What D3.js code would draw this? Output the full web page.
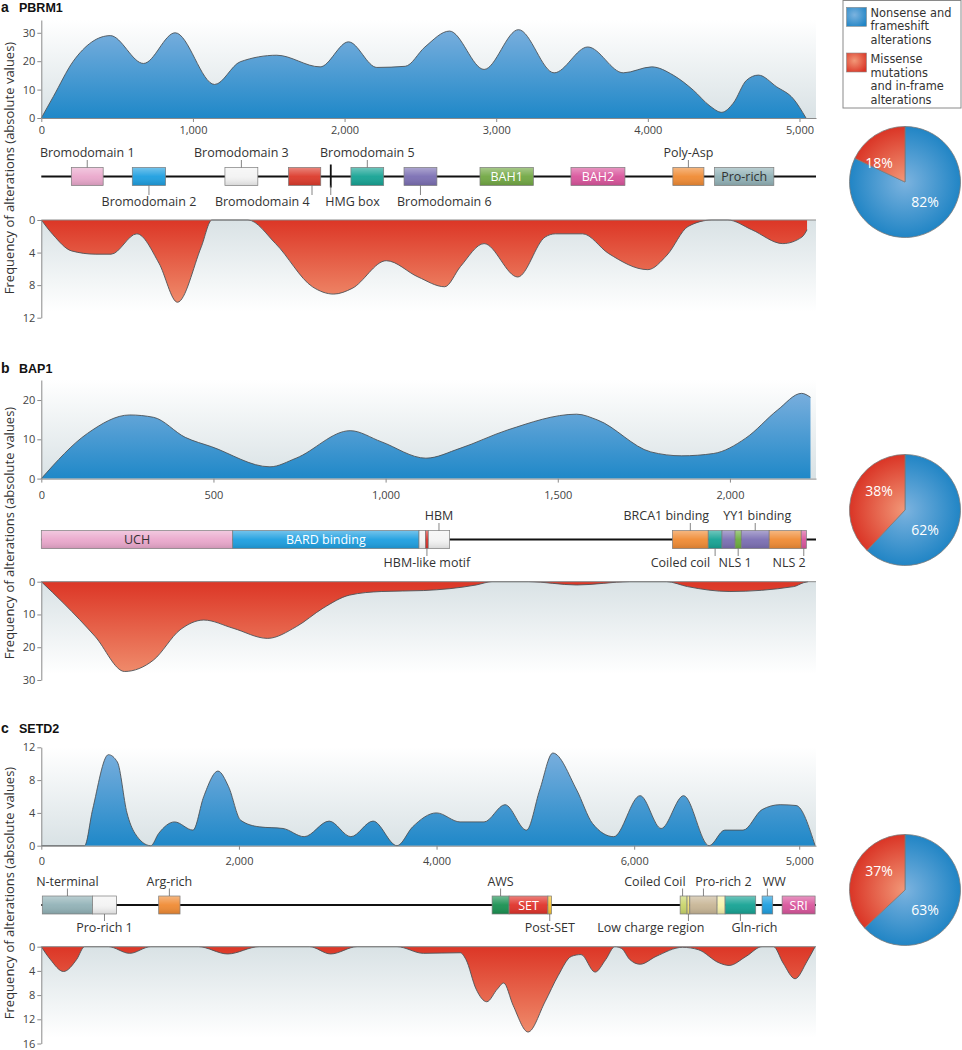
<!DOCTYPE html>
<html><head><meta charset="utf-8">
<script src="https://cdn.jsdelivr.net/npm/d3@7"></script>
<style>
body{margin:0;background:#fff;}
svg{display:block;}
</style></head>
<body><svg id="chart" width="962" height="1050"></svg>
<script>
// ================= DATA =================
// --- a: PBRM1 ---
const pbrm1XTicks = [0, 1000, 2000, 3000, 4000, 5000];
const pbrm1XLabels = ["0", "1,000", "2,000", "3,000", "4,000", "5,000"];
const pbrm1TopTicks = [0, 10, 20, 30];
const pbrm1BotTicks = [0, 4, 8, 12];
const pbrm1TruncPos  = [0, 79, 211, 455, 674, 883, 1143, 1312, 1553, 1839, 2026, 2213, 2400, 2530, 2692, 2920, 3147, 3382, 3604, 3838, 4026, 4167, 4300, 4410, 4487, 4563, 4651, 4729, 4849, 4959, 5043];
const pbrm1TruncFreq = [0, 7.5, 20, 29, 19.2, 30, 11.8, 19.8, 22.1, 18, 26.8, 17.8, 18.2, 25, 30.6, 17.1, 31.1, 15.9, 25, 15.9, 18, 15.1, 9.8, 4.2, 2, 5.2, 13.3, 15.1, 11, 6.8, 0];
const pbrm1MissPos  = [0, 77, 200, 360, 460, 630, 776, 898, 1055, 1125, 1363, 1545, 1788, 1928, 2050, 2275, 2485, 2660, 2765, 2920, 3142, 3322, 3390, 3570, 3740, 4000, 4127, 4265, 4423, 4528, 4686, 4890, 5016, 5050];
const pbrm1MissFreq = [0, 1.8, 3.8, 4.2, 4.2, 1.7, 5.3, 10.1, 3.3, 0, 0, 2.9, 8.2, 9.1, 8.4, 5, 7, 8.2, 5.7, 2.9, 7, 2.1, 1.7, 1.7, 4.1, 6.1, 4.3, 0.8, 0, 0, 1.2, 2.9, 2.1, 1.2];
const pbrm1DomainNames = ["Bromodomain 1", "Bromodomain 2", "Bromodomain 3", "Bromodomain 4", "HMG box", "Bromodomain 5", "Bromodomain 6", "BAH1", "BAH2", "Poly-Asp", "Pro-rich"];
const pbrm1DomainStart = [198, 600, 1211, 1630, 1903, 2042, 2392, 2893, 3493, 4165, 4440];
const pbrm1DomainEnd   = [408, 820, 1428, 1843, 1915, 2258, 2609, 3245, 3849, 4370, 4831];
const pbrm1Pie = [82, 18];

// --- b: BAP1 ---
const bap1XTicks = [0, 500, 1000, 1500, 2000];
const bap1XLabels = ["0", "500", "1,000", "1,500", "2,000"];
const bap1TopTicks = [0, 10, 20];
const bap1BotTicks = [0, 10, 20, 30];
const bap1TruncPos  = [0, 134, 257, 326, 418, 495, 664, 740, 897, 987, 1117, 1216, 1355, 1555, 1616, 1770, 1860, 1953, 2046, 2139, 2208, 2234];
const bap1TruncFreq = [0, 11.5, 16.2, 15.6, 10.5, 8.1, 3.0, 5.2, 12.2, 9.4, 5.2, 7.7, 12.4, 16.4, 14.9, 6.8, 5.8, 6.4, 10.3, 17.5, 21.7, 20.7];
const bap1MissPos  = [0, 65, 157, 242, 326, 403, 472, 557, 657, 741, 818, 895, 987, 1110, 1263, 1309, 1416, 1555, 1709, 1816, 1877, 2000, 2185, 2214, 2227];
const bap1MissFreq = [0, 6.6, 16.8, 27.4, 23.9, 14.7, 11.7, 14.2, 17.3, 13.7, 8.1, 4.1, 3.0, 2.7, 1.0, 0, 0, 1.0, 0, 0, 1.5, 3.0, 1.5, 0.3, 0];
const bap1DomainNames = ["UCH", "BARD binding", "", "HBM-like motif", "HBM", "BRCA1 binding", "Coiled coil", "", "NLS 1", "YY1 binding", "", "NLS 2"];
const bap1DomainStart = [0, 556, 1097, 1116, 1124, 1833, 1937, 1977, 2015, 2033, 2114, 2207];
const bap1DomainEnd   = [556, 1097, 1116, 1124, 1186, 1937, 1977, 2015, 2033, 2114, 2207, 2222];
const bap1Pie = [62, 38];

// --- c: SETD2 ---
const setd2XTicks = [0, 2000, 4000, 6000, 7670];
const setd2XLabels = ["0", "2,000", "4,000", "6,000", "5,000"];
const setd2TopTicks = [0, 4, 8, 12];
const setd2BotTicks = [0, 4, 8, 12, 16];
const setd2TruncPos  = [0, 438, 519, 679, 770, 867, 948, 1108, 1188, 1349, 1535, 1644, 1788, 1895, 2018, 2205, 2446, 2660, 2913, 3133, 3357, 3600, 3758, 3999, 4238, 4481, 4693, 4910, 5044, 5177, 5418, 5579, 5793, 6060, 6273, 6500, 6758, 6917, 7102, 7294, 7477, 7639, 7831];
const setd2TruncFreq = [0, 0, 4.4, 11.1, 10.2, 4.0, 1.5, 0, 1.5, 2.9, 1.9, 6.0, 9.1, 7.2, 3.1, 2.3, 2.1, 1.1, 3.0, 1.1, 3.0, 0, 2.3, 4.0, 2.9, 2.9, 5.0, 1.9, 6.8, 11.3, 6.8, 2.7, 1.1, 6.1, 2.1, 6.1, 0, 1.9, 1.9, 4.4, 5.0, 4.9, 0];
const setd2MissPos  = [0, 91, 225, 358, 438, 679, 894, 1108, 1590, 1885, 2205, 2715, 2928, 3196, 3600, 3868, 4240, 4297, 4400, 4508, 4615, 4679, 4775, 4926, 5098, 5230, 5364, 5462, 5604, 5713, 5804, 5873, 5954, 6060, 6222, 6489, 6650, 6863, 6960, 7133, 7294, 7410, 7507, 7628, 7750, 7831];
const setd2MissFreq = [0, 2.1, 4.1, 2.1, 0, 0, 1.1, 0, 0, 1.2, 0, 0, 1.2, 0, 0, 1.1, 1.0, 2.1, 7.0, 9.1, 7.0, 6.0, 9.7, 14.1, 9.1, 4.8, 1.6, 1.3, 4.2, 2.1, 0, 0.3, 2.1, 2.9, 1.6, 0.1, 0.5, 2.7, 3.1, 1.6, 0, 0, 2.7, 5.3, 2.4, 0];
const setd2DomainNames = ["N-terminal", "Pro-rich 1", "Arg-rich", "AWS", "SET", "Post-SET", "Coiled Coil", "Low charge region", "Pro-rich 2", "", "Gln-rich", "WW", "SRI"];
const setd2DomainStart = [10, 519, 1188, 4562, 4734, 5127, 6465, 6535, 6563, 6839, 6920, 7294, 7497];
const setd2DomainEnd   = [519, 760, 1404, 4734, 5127, 5164, 6535, 6563, 6839, 6920, 7230, 7402, 7831];
const setd2Pie = [63, 37];

const legendLabels = [["Nonsense and", "frameshift", "alterations"], ["Missense", "mutations", "and in-frame", "alterations"]];
const yAxisTitle = "Frequency of alterations (absolute values)";

// ================= STYLES / LAYOUT =================
const FONT = '"Open Sans","Noto Sans",sans-serif';
const TFONT = '"Liberation Sans","Arial",sans-serif';
const LFONT = '"DejaVu Sans",sans-serif';
const TXT = "#333";
const AX = "#8a8a8a";
const C = {pink:"#eaa8cc", blue:"#1e9fe0", white:"#f3f3f3", red:"#dc3a2b", teal:"#16a394", purple:"#7b6fb3",
  green:"#72a844", magenta:"#d9559c", orange:"#f08b34", greyteal:"#92b2b7", dkgreen:"#1a9152", yellow:"#f7c22e",
  ygreen:"#c9d56b", lowy:"#f0e070", tan:"#c8b696", ltyellow:"#f8f3ab", nls1:"#6cad3e", black:"#111"};

const pbrm1DomainStyle = [
  {fill:C.pink, side:"above"},
  {fill:C.blue, side:"below"},
  {fill:C.white, side:"above"},
  {fill:C.red, side:"below", anchor:"end", dx:5, ldx:7.4},
  {fill:C.black, side:"below", anchor:"start", dx:-5.5, bar:true},
  {fill:C.teal, side:"above"},
  {fill:C.purple, side:"below", anchor:"start", dx:-23.5},
  {fill:C.green, side:"inside", tc:"#fff"},
  {fill:C.magenta, side:"inside", tc:"#fff"},
  {fill:C.orange, side:"above"},
  {fill:C.greyteal, side:"inside", tc:"#333"}
];
const bap1DomainStyle = [
  {fill:C.pink, side:"inside", tc:"#333"},
  {fill:C.blue, side:"inside", tc:"#fff"},
  {fill:C.white, side:null},
  {fill:"#d9302a", side:"below"},
  {fill:C.white, side:"above"},
  {fill:C.orange, side:"above", dx:-24},
  {fill:C.teal, side:"below", anchor:"end", dx:-5},
  {fill:C.purple, side:null},
  {fill:C.nls1, side:"below", dx:-3},
  {fill:C.purple, side:"above", dx:2},
  {fill:C.orange, side:null},
  {fill:C.magenta, side:"below", anchor:"end", dx:2}
];
const setd2DomainStyle = [
  {fill:C.greyteal, side:"above"},
  {fill:C.white, side:"below"},
  {fill:C.orange, side:"above"},
  {fill:C.dkgreen, side:"above"},
  {fill:"#e0332a", side:"inside", tc:"#fff"},
  {fill:C.yellow, side:"below"},
  {fill:C.ygreen, side:"above", anchor:"end", dx:2, ldx:-1},
  {fill:C.lowy, side:"below", dx:-37.6},
  {fill:C.tan, side:"above", dx:20},
  {fill:C.ltyellow, side:null},
  {fill:C.teal, side:"below", dx:14},
  {fill:C.blue, side:"above", dx:7},
  {fill:C.magenta, side:"inside", tc:"#fff"}
];

const panels = [
  {letter:"a", name:"PBRM1", titleBase:11.5, xMax:5109, xTicks:pbrm1XTicks, xLabels:pbrm1XLabels, xLabelBase:134,
   topTop:20, top0:118, topMax:34.5, topTicks:pbrm1TopTicks,
   bot0:220, botBottom:317.7, botMax:12, botTicks:pbrm1BotTicks,
   tPos:pbrm1TruncPos, tVal:pbrm1TruncFreq, mPos:pbrm1MissPos, mVal:pbrm1MissFreq,
   dNames:pbrm1DomainNames, dStart:pbrm1DomainStart, dEnd:pbrm1DomainEnd, dStyle:pbrm1DomainStyle,
   boxTop:167.5, aboveBase:157, belowBase:206, pie:pbrm1Pie, pieCy:182, yTitleC:168},
  {letter:"b", name:"BAP1", titleBase:373, xMax:2250, xTicks:bap1XTicks, xLabels:bap1XLabels, xLabelBase:499,
   topTop:380, top0:478.6, topMax:25.1, topTicks:bap1TopTicks,
   bot0:581.7, botBottom:680, botMax:30, botTicks:bap1BotTicks,
   tPos:bap1TruncPos, tVal:bap1TruncFreq, mPos:bap1MissPos, mVal:bap1MissFreq,
   dNames:bap1DomainNames, dStart:bap1DomainStart, dEnd:bap1DomainEnd, dStyle:bap1DomainStyle,
   boxTop:530.6, aboveBase:520, belowBase:567, pie:bap1Pie, pieCy:510, yTitleC:533},
  {letter:"c", name:"SETD2", titleBase:733, xMax:7840, xTicks:setd2XTicks, xLabels:setd2XLabels, xLabelBase:865,
   topTop:747.3, top0:845.7, topMax:12, topTicks:setd2TopTicks,
   bot0:946.7, botBottom:1043.5, botMax:16, botTicks:setd2BotTicks,
   tPos:setd2TruncPos, tVal:setd2TruncFreq, mPos:setd2MissPos, mVal:setd2MissFreq,
   dNames:setd2DomainNames, dStart:setd2DomainStart, dEnd:setd2DomainEnd, dStyle:setd2DomainStyle,
   boxTop:896, aboveBase:885.5, belowBase:932, pie:setd2Pie, pieCy:890, yTitleC:893}
];

// pie label offsets from pie centre: [blue slice, red slice]
const pieLabelOffset = [[20, 20], [-26, -18.5]];

// ================= DRAW =================
const svg = d3.select("#chart").style("font-family", FONT);
const defs = svg.append("defs");
function lin(id, stops, vertical=true) {
  const g = defs.append("linearGradient").attr("id", id)
    .attr("x1", 0).attr("y1", 0).attr("x2", vertical ? 0 : 1).attr("y2", vertical ? 1 : 0);
  stops.forEach(s => g.append("stop").attr("offset", s[0]).attr("stop-color", s[1]).attr("stop-opacity", s[2] == null ? 1 : s[2]));
}
lin("bgTop", [[0, "#ffffff"], [1, "#d9e2e5"]]);
lin("bgBot", [[0, "#d9e2e5"], [1, "#ffffff"]]);
lin("blueArea", [[0, "#78aedd"], [1, "#1f88c8"]]);
lin("redArea", [[0, "#dc3626"], [1, "#ef8a6a"]]);
lin("boxShade", [[0, "#ffffff", 0.38], [0.5, "#ffffff", 0.05], [1, "#000000", 0.12]]);

const XL = 41.3, XR = 816;

panels.forEach(p => {
  const g = svg.append("g");
  const x = d3.scaleLinear().domain([0, p.xMax]).range([XL, XR]);
  const yT = d3.scaleLinear().domain([0, p.topMax]).range([p.top0, p.topTop]);
  const yB = d3.scaleLinear().domain([0, p.botMax]).range([p.bot0, p.botBottom]);

  // title
  const t = g.append("text").attr("x", 1).attr("y", p.titleBase).attr("font-weight", "bold").attr("fill", "#111")
    .attr("font-family", TFONT);
  t.append("tspan").attr("font-size", 14).text(p.letter);
  t.append("tspan").attr("x", 19).attr("font-size", 12.5).text(p.name);

  // backgrounds
  g.append("rect").attr("x", XL).attr("y", p.topTop).attr("width", XR - XL).attr("height", p.top0 - p.topTop).attr("fill", "url(#bgTop)");
  g.append("rect").attr("x", XL).attr("y", p.bot0).attr("width", XR - XL).attr("height", p.botBottom - p.bot0 - 6).attr("fill", "url(#bgBot)");

  // truncating area
  const td = p.tPos.map((d, i) => [d, p.tVal[i]]);
  const areaT = d3.area().x(d => x(d[0])).y0(yT(0)).y1(d => yT(d[1])).curve(d3.curveMonotoneX);
  const lineT = d3.line().x(d => x(d[0])).y(d => yT(d[1])).curve(d3.curveMonotoneX);
  g.append("path").attr("d", areaT(td)).attr("fill", "url(#blueArea)");
  g.append("path").attr("d", lineT(td)).attr("fill", "none").attr("stroke", "#4d5257").attr("stroke-width", 0.9);

  // missense area
  const md = p.mPos.map((d, i) => [d, p.mVal[i]]);
  const areaM = d3.area().x(d => x(d[0])).y0(yB(0)).y1(d => yB(d[1])).curve(d3.curveMonotoneX);
  const lineM = d3.line().x(d => x(d[0])).y(d => yB(d[1])).curve(d3.curveMonotoneX);
  g.append("path").attr("d", areaM(md)).attr("fill", "url(#redArea)");
  g.append("path").attr("d", lineM(md)).attr("fill", "none").attr("stroke", "#4d5257").attr("stroke-width", 0.9);

  // axes
  function styleAxis(sel) {
    sel.selectAll("path.domain").attr("stroke", AX).attr("stroke-width", 1);
    sel.selectAll(".tick line").attr("stroke", AX);
    sel.selectAll(".tick text").attr("fill", "#444").attr("font-size", 11).attr("font-family", FONT);
  }
  const ayT = g.append("g").attr("transform", `translate(${XL},0)`)
    .call(d3.axisLeft(yT).tickValues(p.topTicks).tickSize(4).tickSizeOuter(0).tickPadding(2));
  styleAxis(ayT);
  const axT = g.append("g").attr("transform", `translate(0,${p.top0})`)
    .call(d3.axisBottom(x).tickValues(p.xTicks).tickFormat((d, i) => p.xLabels[i]).tickSize(4).tickSizeOuter(0).tickPadding(p.xLabelBase - p.top0 - 12));
  styleAxis(axT);
  const ayB = g.append("g").attr("transform", `translate(${XL},0)`)
    .call(d3.axisLeft(yB).tickValues(p.botTicks).tickSize(4).tickSizeOuter(0).tickPadding(2));
  styleAxis(ayB);
  g.append("line").attr("x1", XL).attr("x2", XR).attr("y1", yB(0)).attr("y2", yB(0)).attr("stroke", AX).attr("stroke-width", 1);

  // y axis title
  g.append("text").attr("transform", `translate(13.5,${p.yTitleC}) rotate(-90)`).attr("text-anchor", "middle")
    .attr("font-size", 13).attr("fill", TXT).text(yAxisTitle);

  // domain architecture
  const bh = 18, lineY = p.boxTop + bh / 2;
  g.append("line").attr("x1", XL).attr("x2", XR).attr("y1", lineY).attr("y2", lineY).attr("stroke", "#111").attr("stroke-width", 2);
  p.dNames.forEach((name, i) => {
    const s = p.dStyle[i];
    const x0 = x(p.dStart[i]), x1 = x(p.dEnd[i]), cx = (x0 + x1) / 2;
    if (s.bar) {
      g.append("rect").attr("x", x0).attr("y", p.boxTop - 3).attr("width", x1 - x0).attr("height", bh + 5).attr("fill", s.fill);
    } else {
      g.append("rect").attr("x", x0).attr("y", p.boxTop).attr("width", x1 - x0).attr("height", bh).attr("fill", s.fill);
      g.append("rect").attr("x", x0).attr("y", p.boxTop).attr("width", x1 - x0).attr("height", bh)
        .attr("fill", "url(#boxShade)").attr("stroke", "#7d7d7d").attr("stroke-width", 0.7);
    }
    if (!s.side || !name) return;
    if (s.side === "inside") {
      g.append("text").attr("x", cx).attr("y", lineY + 4.6).attr("text-anchor", "middle")
        .attr("font-size", 12.5).attr("fill", s.tc).text(name);
      return;
    }
    const lx = cx + (s.ldx || 0);
    const tx = cx + (s.dx || 0);
    if (s.side === "above") {
      g.append("line").attr("x1", lx).attr("x2", lx).attr("y1", p.aboveBase + 3).attr("y2", p.boxTop).attr("stroke", "#666").attr("stroke-width", 0.8);
      g.append("text").attr("x", tx).attr("y", p.aboveBase).attr("text-anchor", s.anchor || "middle")
        .attr("font-size", 12.5).attr("fill", TXT).text(name);
    } else {
      g.append("line").attr("x1", lx).attr("x2", lx).attr("y1", p.boxTop + bh).attr("y2", p.belowBase - 11).attr("stroke", "#666").attr("stroke-width", 0.8);
      g.append("text").attr("x", tx).attr("y", p.belowBase).attr("text-anchor", s.anchor || "middle")
        .attr("font-size", 12.5).attr("fill", TXT).text(name);
    }
  });

  // pie
  const r = 55.5, pcx = 905;
  [["#7cb3df", "#2185c5"], ["#f29878", "#da3526"]].forEach((cs, i) => {
    const rg = defs.append("radialGradient").attr("id", `pg${p.letter}${i}`).attr("gradientUnits", "userSpaceOnUse")
      .attr("cx", 0).attr("cy", 0).attr("r", r);
    rg.append("stop").attr("offset", 0).attr("stop-color", cs[0]);
    rg.append("stop").attr("offset", 1).attr("stop-color", cs[1]);
  });
  const pg = g.append("g").attr("transform", `translate(${pcx},${p.pieCy})`);
  const arcs = d3.pie().sort(null).value(d => d)(p.pie);
  const arc = d3.arc().innerRadius(0).outerRadius(r);
  pg.selectAll("path.sl").data(arcs).join("path").attr("class", "sl").attr("d", arc)
    .attr("fill", (d, i) => `url(#pg${p.letter}${i})`).attr("stroke", "#7a7a7a").attr("stroke-width", 0.8);
  pg.selectAll("text").data(arcs).join("text")
    .attr("transform", (d, i) => `translate(${pieLabelOffset[i]})`).attr("text-anchor", "middle").attr("dy", "0.35em")
    .attr("font-size", 14).attr("fill", "#fff").text(d => d.data + "%");
});

// legend
const lg = svg.append("g");
lg.append("rect").attr("x", 843).attr("y", 0.5).attr("width", 118).attr("height", 107.5).attr("fill", "#fff").attr("stroke", "#8a8a8a").attr("stroke-width", 1);
[["#7cb3df", "#2185c5"], ["#f29878", "#da3526"]].forEach((cs, i) => {
  const rg = defs.append("radialGradient").attr("id", `lgg${i}`).attr("cx", "40%").attr("cy", "40%").attr("r", "70%");
  rg.append("stop").attr("offset", 0).attr("stop-color", cs[0]);
  rg.append("stop").attr("offset", 1).attr("stop-color", cs[1]);
});
const swY = [7.3, 53];
legendLabels.forEach((lines, i) => {
  lg.append("rect").attr("x", 846.5).attr("y", swY[i]).attr("width", 20).attr("height", 19).attr("fill", `url(#lgg${i})`).attr("stroke", "#8a8a8a").attr("stroke-width", 0.6);
  const base = i === 0 ? 16.7 : 63.3;
  const step = 13.5;
  const tx = lg.append("text").attr("x", 870.5).attr("y", base).attr("font-size", 11.4).attr("font-family", LFONT).attr("fill", TXT);
  lines.forEach((l, j) => tx.append("tspan").attr("x", 870.5).attr("y", base + j * step).text(l));
});
</script>
</body></html>
